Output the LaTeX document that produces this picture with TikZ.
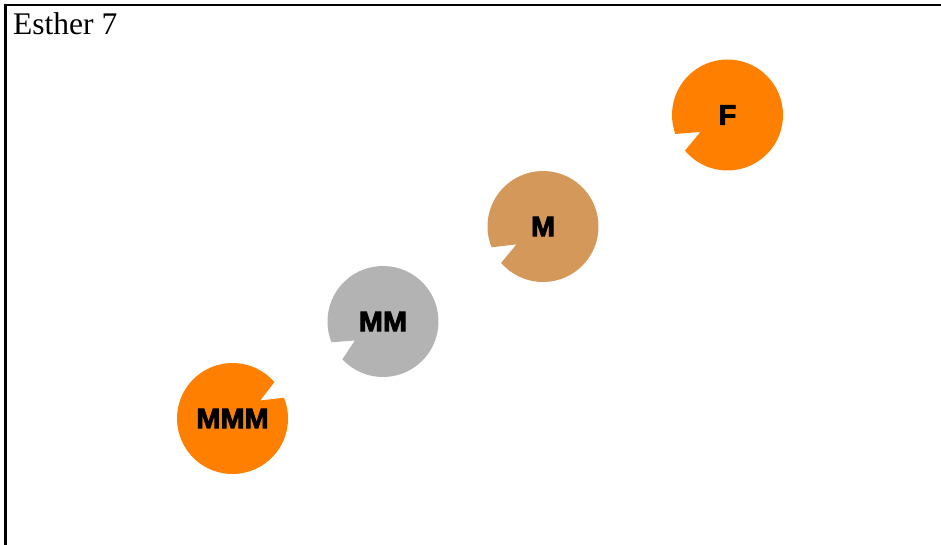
\documentclass[tikz,border=0pt]{standalone}
\usepackage{fontspec}
\setmainfont{Liberation Serif}
\newfontfamily\pielabelfont[FakeBold=3,FakeStretch=1.03]{Liberation Sans Bold}
\usepackage{tikz}
\usetikzlibrary{calc}
\definecolor{pieorange}{RGB}{255,128,0}
\definecolor{pietan}{RGB}{212,152,90}
\definecolor{piegrey}{RGB}{179,179,179}
\tikzset{
	pielabel/.style={font=\pielabelfont\fontsize{28}{28}\selectfont,text=black,inner sep=0pt}, % letters on the pies
	frameline/.style={line width=2.2pt,black},
}

\begin{document}
\begin{tikzpicture}[x=1pt,y=1pt]
			% fix the page size
			\useasboundingbox (0,0) rectangle (941,545);
			% radius of the pies
			\def\r{55.5}

			% frame, open at the right and bottom
			\draw[frameline] (5.5,-2) -- (5.5,540) -- (943,540);
			\node[anchor=base west,inner sep=0pt,font=\fontsize{31.5}{31.5}\selectfont] (title) at (13,510) {Esther 7};

			% pie F, notch at the lower left
			\coordinate (cF) at (727.5,430);
			\fill[pieorange] ($(cF)+(220:\r)$) arc[start angle=220,end angle=560,radius=\r] -- ($(cF)+(212:32)$) -- cycle;
			\node[pielabel] (F) at (cF) {F};

			% pie M
			\coordinate (cM) at (543,318.5);
			\fill[pietan] ($(cM)+(221:\r)$) arc[start angle=221,end angle=562,radius=\r] -- ($(cM)+(214:32)$) -- cycle;
			\node[pielabel] (M) at (cM) {M};

			% pie MM
			\coordinate (cMM) at (383,223.5);
			\fill[piegrey] ($(cMM)+(223:\r)$) arc[start angle=223,end angle=562,radius=\r] -- ($(cMM)+(214:34)$) -- cycle;
			\node[pielabel] (MM) at (cMM) {MM};

			% pie MMM, notch at the upper right
			\coordinate (cMMM) at (232.5,126.5);
			\fill[pieorange] ($(cMMM)+(41:\r)$) arc[start angle=41,end angle=382,radius=\r] -- ($(cMMM)+(33:33)$) -- cycle;
			\node[pielabel] (MMM) at (cMMM) {MMM};

			\end{tikzpicture}
\end{document}
